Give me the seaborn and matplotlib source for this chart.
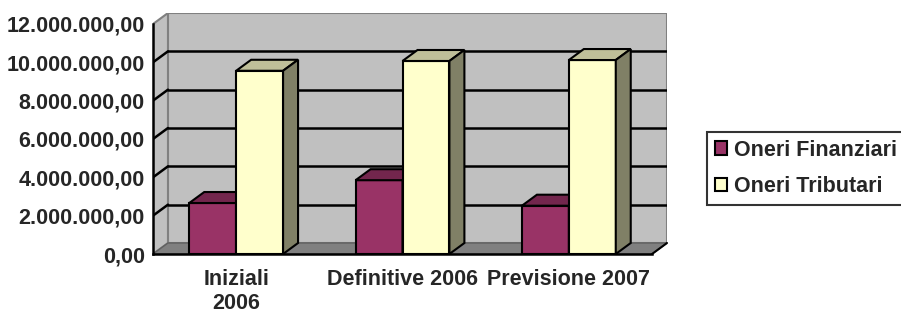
import numpy as np
import pandas as pd
import matplotlib
matplotlib.use("Agg")
import matplotlib.pyplot as plt
from matplotlib.patches import Polygon, Patch
import seaborn as sns

# -----------------------------
# DATA
# -----------------------------
categories = ["Iniziali 2006", "Definitive 2006", "Previsione 2007"]
tick_labels = ["Iniziali\n2006", "Definitive 2006", "Previsione 2007"]
series = ["Oneri Finanziari", "Oneri Tributari"]
finanziari = [2660000, 3850000, 2520000]
tributari = [9560000, 10070000, 10120000]
y_ticks = [0, 2000000, 4000000, 6000000, 8000000, 10000000, 12000000]

colors = ["#993366", "#FFFFCC"]

df = pd.DataFrame({
    "cat": categories * 2,
    "serie": [series[0]] * 3 + [series[1]] * 3,
    "val": finanziari + tributari,
})

# -----------------------------
# FIGURE
# -----------------------------
sns.set_style("white")
plt.rcParams["font.family"] = ["Liberation Sans", "DejaVu Sans"]
plt.rcParams["font.weight"] = "bold"

W, H = 901, 314
fig = plt.figure(figsize=(W / 100, H / 100), dpi=100)
left, right, top, bottom = 153, 667, 13, 254
ax = fig.add_axes([left / W, (H - bottom) / H, (right - left) / W, (bottom - top) / H])

ymax = y_ticks[-1]
px_per_val = (bottom - 24) / ymax
dy = 11 / px_per_val          # depth offset in value units
px_per_cat = (653 - 153) / 3
dx = 15 / px_per_cat          # depth offset in category units

ax.set_xlim(-0.5, 2.5 + dx)
ax.set_ylim(0, ymax + dy)
ax.patch.set_alpha(0)

wall = "#C0C0C0"
floor = "#808080"

# back wall
ax.add_patch(Polygon([(-0.5 + dx, dy), (2.5 + dx, dy), (2.5 + dx, ymax + dy), (-0.5 + dx, ymax + dy)],
                     closed=True, fc=wall, ec="#808080", lw=1.5, zorder=0))
# left wall
ax.add_patch(Polygon([(-0.5, 0), (-0.5 + dx, dy), (-0.5 + dx, ymax + dy), (-0.5, ymax)],
                     closed=True, fc=wall, ec="#808080", lw=1.5, zorder=0.5))
# floor
ax.add_patch(Polygon([(-0.5, 0), (2.5, 0), (2.5 + dx, dy), (-0.5 + dx, dy)],
                     closed=True, fc=floor, ec="#606060", lw=1, zorder=0.6))
ax.plot([2.5, 2.5 + dx], [0, dy], color="black", lw=1.5, zorder=0.7, clip_on=False)

# gridlines
for v in y_ticks[1:-1]:
    ax.plot([-0.5 + dx, 2.5 + dx], [v + dy, v + dy], color="black", lw=1.8, zorder=1)
    ax.plot([-0.5, -0.5 + dx], [v, v + dy], color="black", lw=1.8, zorder=1)

# bars
sns.barplot(data=df, x="cat", y="val", hue="serie", palette=colors, width=0.564,
            saturation=1, edgecolor="black", linewidth=1.5, errorbar=None,
            legend=False, ax=ax)

bars = sorted([p for c in ax.containers for p in c], key=lambda p: p.get_x())
for i, p in enumerate(bars):
    z = 3 + i
    p.set_zorder(z)
    x0, w, h = p.get_x(), p.get_width(), p.get_height()
    fc = np.array(matplotlib.colors.to_rgb(p.get_facecolor()))
    ax.add_patch(Polygon([(x0, h), (x0 + w, h), (x0 + w + dx, h + dy), (x0 + dx, h + dy)],
                         closed=True, fc=fc * 0.75, ec="black", lw=1.5, zorder=z + 0.1))
    ax.add_patch(Polygon([(x0 + w, 0), (x0 + w + dx, dy), (x0 + w + dx, h + dy), (x0 + w, h)],
                         closed=True, fc=fc * 0.5, ec="black", lw=1.5, zorder=z + 0.1))

ax.set_xlim(-0.5, 2.5 + dx)
ax.set_ylim(0, ymax + dy)

# axes
for s in ["top", "right"]:
    ax.spines[s].set_visible(False)
ax.spines["left"].set_bounds(0, ymax)
ax.spines["bottom"].set_bounds(-0.5, 2.5)
for s in ["left", "bottom"]:
    ax.spines[s].set_linewidth(1.8)
    ax.spines[s].set_color("black")
    ax.spines[s].set_zorder(10)

ax.set_yticks(y_ticks)
ax.set_yticklabels([f"{v:,.2f}".replace(",", "X").replace(".", ",").replace("X", ".") for v in y_ticks],
                   fontsize=15.5, fontweight="bold")
ax.set_xticks([-0.5, 0.5, 1.5, 2.5])
ax.set_xticklabels([])
ax.set_xticks([0, 1, 2], minor=True)
ax.set_xticklabels(tick_labels, minor=True, fontsize=15.5, fontweight="bold", linespacing=1.2)
ax.tick_params(axis="both", which="major", direction="out", length=4, width=1.8, color="black")
ax.tick_params(axis="y", pad=2)
ax.tick_params(axis="x", which="minor", length=0, pad=11)
ax.set_xlabel("")
ax.set_ylabel("")

# legend
handles = [Patch(facecolor=c, edgecolor="black", linewidth=1.5) for c in colors]
leg = fig.legend(handles, series, loc="upper left", bbox_to_anchor=(707 / W, 1 - 132 / H),
                 fancybox=False, frameon=True, prop={"size": 15.5, "weight": "bold"},
                 handlelength=0.6, handleheight=0.6, handletextpad=0.3,
                 labelspacing=0.72, borderpad=0.35, borderaxespad=0)
leg.get_frame().set_edgecolor("black")
leg.get_frame().set_linewidth(1.5)

fig.savefig("out.png", dpi=100)
